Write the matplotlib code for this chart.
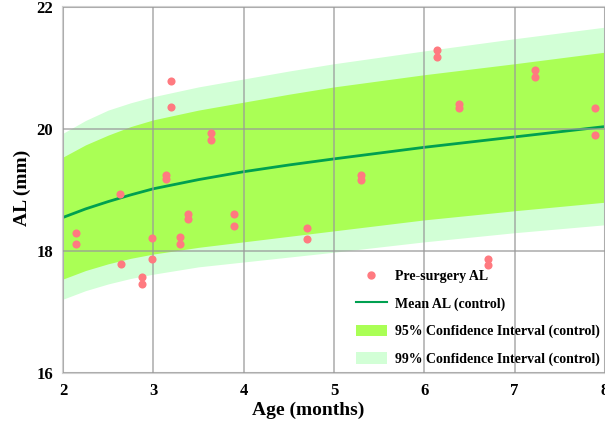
import numpy as np
import matplotlib
matplotlib.use('Agg')
import matplotlib.pyplot as plt
from matplotlib.patches import Patch
from matplotlib.lines import Line2D

plt.rcParams['font.family'] = ['Liberation Serif', 'DejaVu Serif']
plt.rcParams['font.weight'] = 'bold'

# control curves
ages = [2.0, 2.25, 2.5, 2.75, 3.0, 3.5, 4.0, 4.5, 5.0, 6.0, 7.0, 8.0]
mean_al = [18.55, 18.69, 18.81, 18.92, 19.02, 19.17, 19.3, 19.41, 19.51, 19.7, 19.87, 20.04]
ci95_hi = [19.54, 19.74, 19.9, 20.04, 20.15, 20.31, 20.44, 20.57, 20.69, 20.89, 21.07, 21.26]
ci95_lo = [17.54, 17.68, 17.79, 17.88, 17.95, 18.06, 18.15, 18.24, 18.33, 18.51, 18.66, 18.8]
ci99_hi = [19.93, 20.14, 20.31, 20.43, 20.53, 20.69, 20.82, 20.95, 21.07, 21.28, 21.48, 21.67]
ci99_lo = [17.21, 17.35, 17.46, 17.55, 17.62, 17.74, 17.82, 17.9, 17.98, 18.15, 18.3, 18.43]

# patients, pre-surgery
pre_age = [2.14, 2.14, 2.63, 2.64, 2.87, 2.87, 2.98, 2.98, 3.14, 3.14,
           3.2, 3.2, 3.29, 3.29, 3.38, 3.38, 3.64, 3.64, 3.89, 3.89,
           4.7, 4.7, 5.3, 5.3, 6.14, 6.14, 6.38, 6.38, 6.71, 6.71,
           7.22, 7.22, 7.89, 7.89]
pre_al = [18.3, 18.11, 18.93, 17.79, 17.57, 17.46, 18.21, 17.87, 19.25, 19.18,
          20.79, 20.36, 18.23, 18.11, 18.6, 18.52, 19.93, 19.82, 18.61, 18.41,
          18.38, 18.2, 19.25, 19.16, 21.3, 21.18, 20.41, 20.34, 17.87, 17.77,
          20.97, 20.85, 20.34, 19.9]

c95 = '#aaff55'
c99 = '#d2ffd6'
cmean = '#00a050'
cdot = '#ff7a80'

fig = plt.figure(figsize=(6.05, 4.21), dpi=100)
ax = fig.add_axes([63 / 605, 48 / 421, 542 / 605, 366 / 421])

ax.fill_between(ages, ci99_lo, ci99_hi, color=c99, lw=0)
ax.fill_between(ages, ci95_lo, ci95_hi, color=c95, lw=0)
ax.plot(ages, mean_al, color=cmean, lw=2)
ax.scatter(pre_age, pre_al, color=cdot, s=34, zorder=3, lw=0)

ax.set_xlim(2, 2 + 542 / 91)
ax.set_ylim(16, 22)
ax.set_xticks([2, 3, 4, 5, 6, 7, 8])
ax.set_yticks([16, 18, 20, 22])
ax.grid(True, color='#999999', lw=1.3, alpha=0.7)
ax.set_axisbelow(False)
for s in ax.spines.values():
    s.set_color('#d0d0d0')
    s.set_linewidth(1.5)
ax.tick_params(length=0, labelsize=12, pad=7)
for lab in ax.get_xticklabels() + ax.get_yticklabels():
    lab.set_fontweight('bold')

fig.text(308 / 605, 11 / 421, 'Age (months)', fontsize=14, fontweight='bold',
         ha='center', va='center')
fig.text(22 / 605, (421 - 188) / 421, 'AL (mm)', fontsize=14, fontweight='bold',
         ha='center', va='center', rotation=90)

handles = [
    Line2D([], [], ls='none', marker='o', color=cdot, markersize=5),
    Line2D([], [], color=cmean, lw=1.5),
    Patch(facecolor=c95),
    Patch(facecolor=c99),
]
labels = ['Pre-surgery AL', 'Mean AL (control)',
          '95% Confidence Interval (control)', '99% Confidence Interval (control)']
fig.legend(handles, labels, loc='lower left', bbox_to_anchor=(356 / 605, 55 / 421),
           frameon=False, prop={'weight': 'bold', 'size': 10},
           borderaxespad=0, borderpad=0, labelspacing=1.0,
           handlelength=2.2, handleheight=0.9, handletextpad=0.6)

fig.savefig('out.png', dpi=100)
